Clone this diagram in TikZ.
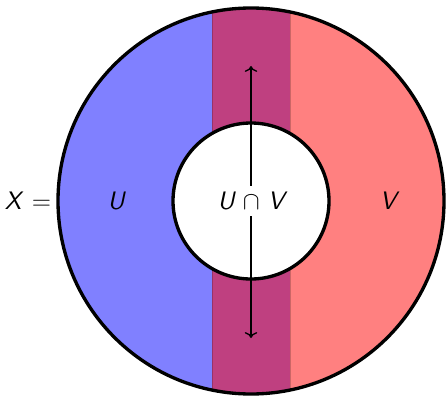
\documentclass[tikz,border=0pt]{standalone}
\usepackage{amsmath}
\usepackage{xcolor}
\usepackage{tikz}
\usetikzlibrary{arrows.meta, calc}

\definecolor{setU}{rgb}{0.5,0.5,1}
\definecolor{setV}{rgb}{1,0.5,0.5}
\definecolor{setUV}{rgb}{0.75,0.25,0.5}

\begin{document}
\begin{tikzpicture}[x=0.02cm, y=0.02cm,
    setlabel/.style={font=\Large\sffamily\itshape}]
        \useasboundingbox (0,0) rectangle (446,403);
        \coordinate (c) at (251,202);

        % the two open sets, clipped to the disc
        \begin{scope}
            \clip (c) circle (193);
            \fill[setU] (0,0) rectangle (212,403);
            \fill[setV] (290,0) rectangle (446,403);
            \fill[setUV] (212,0) rectangle (290,403);
            \draw[setUV!80!black, thin] (212,0) -- (212,403);
            \draw[setV!80!black, thin] (290,0) -- (290,403);
        \end{scope}

        \draw[line width=1.9pt, fill=white] (c) circle (78);
        \draw[line width=1.9pt] (c) circle (193);

        \node[setlabel] (X) at (28,202) {X \textup{=}};
        \node[setlabel] (U) at (116,202) {U};
        \node[setlabel] (V) at (388,202) {V};
        \node[setlabel] (UV) at (251,202) {U $\cap$ V};

        \coordinate (top) at (251,337);
        \coordinate (bottom) at (251,65);
        \draw[->, line width=0.8pt] (UV) -- (top);
        \draw[->, line width=0.8pt] (UV) -- (bottom);
    \end{tikzpicture}
\end{document}
